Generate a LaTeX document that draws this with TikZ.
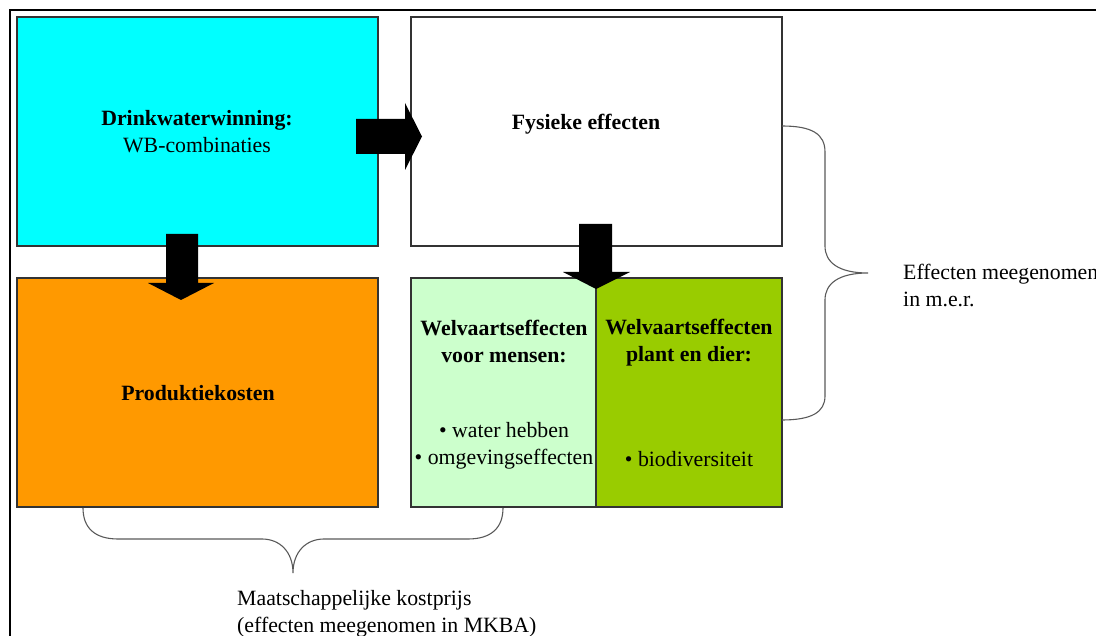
\documentclass[tikz,border=0pt]{standalone}
\usepackage{fontspec}
\setmainfont{Liberation Serif}
\definecolor{boxcyan}{RGB}{0,255,255}
\definecolor{boxorange}{RGB}{255,153,0}
\definecolor{boxlight}{RGB}{204,255,204}
\definecolor{boxgreen}{RGB}{153,204,0}
\begin{document}
\begin{tikzpicture}[x=1pt,y=-1pt,
  box/.style={draw=black!80,line width=1.3pt,anchor=north west,inner sep=0pt,outer sep=0pt},
  txt/.style={font=\fontsize{21.8}{27}\selectfont,align=center,inner sep=0pt,text=black},
  btxt/.style={txt,font=\fontsize{21.8}{27}\selectfont\bfseries},
  blockarrow/.style={fill=black,draw=none},
  bracepath/.style={draw=black!65,line width=1.1pt}]
\useasboundingbox (0,0) rectangle (1096,636);
% outer frame (top and left lines)
\draw[line width=2.2pt] (1096,10) -- (10,10) -- (10,636);
% boxes
\node[box,fill=boxcyan,minimum width=361pt,minimum height=229pt] (dw) at (17,17) {};
\node[box,fill=white,minimum width=371pt,minimum height=229pt] (fe) at (411,17) {};
\node[box,fill=boxorange,minimum width=361pt,minimum height=229pt] (pk) at (17,278) {};
\node[box,fill=boxlight,minimum width=185pt,minimum height=229pt] (wm) at (411,278) {};
\node[box,fill=boxgreen,minimum width=186pt,minimum height=229pt] (wp) at (596,278) {};
% texts
\node[txt] (dwt) at (197,132) {\textbf{Drinkwaterwinning:}\\WB-combinaties};
\node[btxt] (fet) at (586,124) {Fysieke effecten};
\node[btxt] (pkt) at (198,393) {Produktiekosten};
\node[btxt] (wmt) at (504,341.5) {Welvaartseffecten\\voor mensen:};
\node[txt] (wmb) at (504,446) {\textbullet{} water hebben\\\textbullet{} omgevingseffecten};
\node[btxt] (wpt) at (689,342.5) {Welvaartseffecten\\plant en dier:};
\node[txt] (wpb) at (689,459) {\textbullet{} biodiversiteit};
% block arrows
\fill[blockarrow] (356,119) -- (405,119) -- (405,103) -- (422,136.5) -- (405,170) -- (405,154) -- (356,154) -- cycle;
\fill[blockarrow] (166,234) -- (198,234) -- (198,283) -- (214,283) -- (181,300) -- (148,283) -- (166,283) -- cycle;
\fill[blockarrow] (579,224) -- (612,224) -- (612,272) -- (630,272) -- (596,289) -- (563,272) -- (579,272) -- cycle;
% right brace
\coordinate (rbtip) at (868,273);
\draw[bracepath] (782,126) .. controls (812,126) and (825,134) .. (825,152)
  -- (825,246) .. controls (825,262) and (838,273) .. (rbtip)
  .. controls (838,273) and (825,284) .. (825,300)
  -- (825,396) .. controls (825,412) and (812,420) .. (782,420);
\node[txt,anchor=west,align=left] (mer) at (903,285.5) {Effecten meegenomen\\in m.e.r.};
% bottom brace
\coordinate (bbtip) at (293,573);
\draw[bracepath] (83,508) .. controls (83,528) and (95,539) .. (118,539)
  -- (262,539) .. controls (280,539) and (293,552) .. (bbtip)
  .. controls (293,552) and (306,539) .. (324,539)
  -- (468,539) .. controls (491,539) and (503,528) .. (503,508);
\node[txt,anchor=west,align=left] (mkba) at (237,613.5) {Maatschappelijke kostprijs\\(effecten meegenomen in MKBA)};
\end{tikzpicture}
\end{document}
